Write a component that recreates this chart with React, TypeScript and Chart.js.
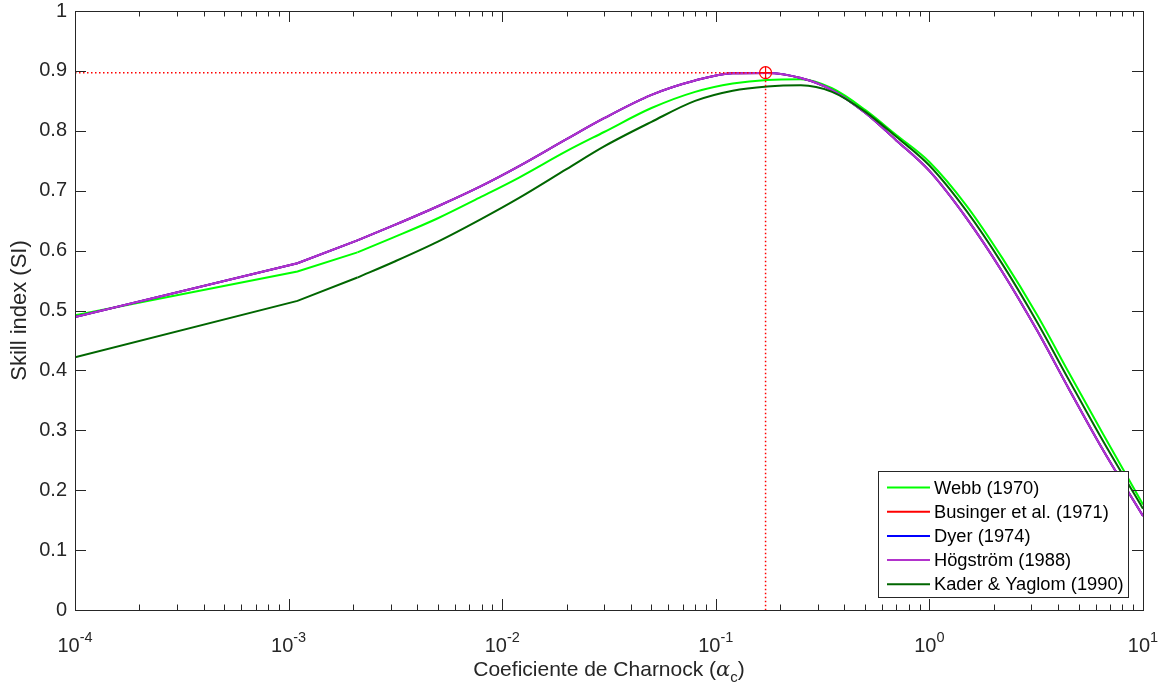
import React, { useEffect, useRef } from 'react';
import { Chart, registerables } from 'chart.js';

Chart.register(...registerables);

// ---- data ----
const alphaGrid = [
  0.0001, 0.0011, 0.0021, 0.0031, 0.005, 0.008, 0.012, 0.02, 0.03, 0.05, 0.08, 0.12,
  0.174, 0.25, 0.35, 0.5, 0.7, 1.0, 1.5, 2.2, 3.2, 4.5, 6.5, 10,
];
const webbSI = [
  0.492, 0.565, 0.597, 0.622, 0.654, 0.69, 0.722, 0.766, 0.798, 0.838, 0.865, 0.879,
  0.885, 0.886, 0.871, 0.835, 0.793, 0.748, 0.674, 0.587, 0.492, 0.396, 0.294, 0.176,
];
const busingerSI = [
  0.489, 0.579, 0.617, 0.642, 0.674, 0.708, 0.741, 0.786, 0.821, 0.86, 0.884, 0.896,
  0.8965, 0.888, 0.868, 0.83, 0.784, 0.733, 0.653, 0.564, 0.466, 0.369, 0.267, 0.157,
];
const dyerSI = [
  0.489, 0.579, 0.617, 0.642, 0.674, 0.708, 0.741, 0.786, 0.821, 0.86, 0.884, 0.896,
  0.8965, 0.888, 0.868, 0.83, 0.784, 0.733, 0.653, 0.564, 0.466, 0.369, 0.267, 0.157,
];
const hogstromSI = [
  0.489, 0.579, 0.617, 0.642, 0.674, 0.708, 0.741, 0.786, 0.821, 0.86, 0.884, 0.896,
  0.8965, 0.888, 0.868, 0.83, 0.784, 0.733, 0.653, 0.564, 0.466, 0.369, 0.267, 0.157,
];
const kaderSI = [
  0.422, 0.516, 0.555, 0.581, 0.615, 0.653, 0.688, 0.736, 0.774, 0.815, 0.85, 0.867,
  0.874, 0.876, 0.865, 0.832, 0.79, 0.742, 0.665, 0.577, 0.48, 0.384, 0.282, 0.169,
];
const seriesLabels = [
  'Webb (1970)',
  'Businger et al. (1971)',
  'Dyer (1974)',
  'Högström (1988)',
  'Kader & Yaglom (1990)',
];
const seriesValues = [webbSI, busingerSI, dyerSI, hogstromSI, kaderSI];
const seriesColors = ['#00FF00', '#FF0000', '#0000FF', '#B233CC', '#006600'];

const peakAlpha = 0.171;
const peakSI = 0.897;

const yTickValues = [0, 0.1, 0.2, 0.3, 0.4, 0.5, 0.6, 0.7, 0.8, 0.9, 1];
const yTickLabels = ['0', '0.1', '0.2', '0.3', '0.4', '0.5', '0.6', '0.7', '0.8', '0.9', '1'];
const xTickExponents = [-4, -3, -2, -1, 0, 1];
const xTitleMain = 'Coeficiente de Charnock (';
const xTitleSymbol = 'α';
const xTitleSub = 'c';
const xTitleEnd = ')';
const yTitle = 'Skill index (SI)';

// index where the coarse (straight) sampling segment ends
const coarseEnd = 2;

const FONT = "'Liberation Sans', Arial, Helvetica, sans-serif";
const AXIS_COLOR = '#262626';

const matlabAxesPlugin = {
  id: 'matlabAxes',
  afterDatasetsDraw(chart: any) {
    const ctx = chart.ctx as CanvasRenderingContext2D;
    const area = chart.chartArea;
    const xs = chart.scales.x;
    const ys = chart.scales.y;
    const L = area.left, R = area.right, T = area.top, B = area.bottom;
    ctx.save();

    // legend
    const lw = 250, lh = 126;
    const lx = R - 15 - lw, ly = B - 13 - lh;
    ctx.fillStyle = '#ffffff';
    ctx.fillRect(lx, ly, lw, lh);
    ctx.strokeStyle = AXIS_COLOR;
    ctx.lineWidth = 1;
    ctx.strokeRect(Math.round(lx) + 0.5, Math.round(ly) + 0.5, lw, lh);
    ctx.font = `18.3px ${FONT}`;
    ctx.textBaseline = 'middle';
    ctx.textAlign = 'left';
    seriesLabels.forEach((lab, i) => {
      const cy = ly + 16.5 + i * 24.2;
      ctx.strokeStyle = seriesColors[i];
      ctx.lineWidth = 2;
      ctx.beginPath();
      ctx.moveTo(lx + 9, cy);
      ctx.lineTo(lx + 52, cy);
      ctx.stroke();
      ctx.fillStyle = '#000000';
      ctx.fillText(lab, lx + 56, cy + 1);
    });

    // ticks
    ctx.strokeStyle = AXIS_COLOR;
    ctx.lineWidth = 1;
    ctx.beginPath();
    const major = 11, minor = 5.5;
    xTickExponents.forEach((e) => {
      const base = Math.pow(10, e);
      const px = Math.round(xs.getPixelForValue(base)) + 0.5;
      ctx.moveTo(px, B); ctx.lineTo(px, B - major);
      ctx.moveTo(px, T); ctx.lineTo(px, T + major);
      if (e < xTickExponents[xTickExponents.length - 1]) {
        for (let k = 2; k <= 9; k++) {
          const mx = Math.round(xs.getPixelForValue(k * base)) + 0.5;
          ctx.moveTo(mx, B); ctx.lineTo(mx, B - minor);
          ctx.moveTo(mx, T); ctx.lineTo(mx, T + minor);
        }
      }
    });
    yTickValues.forEach((v) => {
      const py = Math.round(ys.getPixelForValue(v)) + 0.5;
      ctx.moveTo(L, py); ctx.lineTo(L + major, py);
      ctx.moveTo(R, py); ctx.lineTo(R - major, py);
    });
    ctx.stroke();
    ctx.strokeRect(Math.round(L) + 0.5, Math.round(T) + 0.5, Math.round(R - L), Math.round(B - T));

    // x tick labels 10^e
    ctx.fillStyle = AXIS_COLOR;
    ctx.textBaseline = 'alphabetic';
    ctx.textAlign = 'left';
    xTickExponents.forEach((e) => {
      const px = xs.getPixelForValue(Math.pow(10, e));
      ctx.font = `20px ${FONT}`;
      const wBase = ctx.measureText('10').width;
      const expText = e < 0 ? '-' + Math.abs(e) : String(e);
      ctx.font = `14.5px ${FONT}`;
      const wExp = ctx.measureText(expText).width;
      const x0 = px - (wBase + wExp) / 2;
      const baseY = B + 42;
      ctx.font = `20px ${FONT}`;
      ctx.fillText('10', x0, baseY);
      ctx.font = `14.5px ${FONT}`;
      ctx.fillText(expText, x0 + wBase, baseY - 10.5);
    });

    // x title
    const cx = (L + R) / 2;
    const ty = B + 66;
    ctx.font = `21px ${FONT}`;
    const w1 = ctx.measureText(xTitleMain).width;
    ctx.font = `italic 21px 'DejaVu Serif', serif`;
    const w2 = ctx.measureText(xTitleSymbol).width;
    ctx.font = `15px ${FONT}`;
    const w3 = ctx.measureText(xTitleSub).width;
    ctx.font = `21px ${FONT}`;
    const w4 = ctx.measureText(xTitleEnd).width;
    let tx = cx - (w1 + w2 + w3 + w4) / 2;
    ctx.fillText(xTitleMain, tx, ty);
    tx += w1;
    ctx.font = `italic 21px 'DejaVu Serif', serif`;
    ctx.fillText(xTitleSymbol, tx, ty);
    tx += w2;
    ctx.font = `15px ${FONT}`;
    ctx.fillText(xTitleSub, tx, ty + 6);
    tx += w3;
    ctx.font = `21px ${FONT}`;
    ctx.fillText(xTitleEnd, tx, ty);

    ctx.restore();
  },
};

export default function App() {
  const canvasRef = useRef<HTMLCanvasElement | null>(null);

  useEffect(() => {
    if (!canvasRef.current) return;
    Chart.defaults.font.family = FONT;
    const orders = [5, 4, 3, 2, 1];
    const curveSets: any[] = [];
    seriesLabels.forEach((lab, i) => {
      const pts = alphaGrid.map((a, j) => ({ x: a, y: seriesValues[i][j] }));
      // coarse straight part (first samples)
      curveSets.push({
        label: lab,
        data: pts.slice(0, coarseEnd + 1),
        borderColor: seriesColors[i],
        backgroundColor: seriesColors[i],
        borderWidth: 2,
        pointRadius: 0,
        tension: 0,
        fill: false,
        order: orders[i],
      });
      // smooth part
      curveSets.push({
        label: lab + ' ',
        data: pts.slice(coarseEnd),
        borderColor: seriesColors[i],
        backgroundColor: seriesColors[i],
        borderWidth: 2,
        pointRadius: 0,
        cubicInterpolationMode: 'monotone',
        fill: false,
        order: orders[i],
      });
    });
    const chart = new Chart(canvasRef.current, {
      type: 'line',
      data: {
        datasets: [
          ...curveSets,
          {
            label: 'hline',
            data: [{ x: 0.0001, y: peakSI }, { x: peakAlpha, y: peakSI }],
            borderColor: '#FF0000',
            borderWidth: 1.5,
            borderDash: [1.5, 2.5],
            pointRadius: 0,
            order: 0,
          },
          {
            label: 'vline',
            data: [{ x: peakAlpha, y: peakSI }, { x: peakAlpha, y: 0 }],
            borderColor: '#FF0000',
            borderWidth: 1.5,
            borderDash: [1.5, 2.5],
            pointRadius: 0,
            order: 0,
          },
          {
            label: 'peakCircle',
            data: [{ x: peakAlpha, y: peakSI }],
            showLine: false,
            borderColor: '#FF0000',
            backgroundColor: 'rgba(0,0,0,0)',
            pointStyle: 'circle',
            pointRadius: 6,
            pointBorderWidth: 1.2,
            order: 0,
          },
          {
            label: 'peakCross',
            data: [{ x: peakAlpha, y: peakSI }],
            showLine: false,
            borderColor: '#FF0000',
            backgroundColor: '#FF0000',
            pointStyle: 'cross',
            pointRadius: 6,
            pointBorderWidth: 1.2,
            order: 0,
          },
        ] as any,
      },
      options: {
        animation: false,
        responsive: false,
        layout: { padding: { left: 7, right: 22, top: 11, bottom: 77 } },
        plugins: {
          legend: { display: false },
          tooltip: { enabled: false },
        },
        scales: {
          x: {
            type: 'logarithmic',
            min: 0.0001,
            max: 10,
            display: false,
          },
          y: {
            type: 'linear',
            min: 0,
            max: 1,
            afterBuildTicks: (scale: any) => {
              scale.ticks = yTickValues.map((v) => ({ value: v }));
            },
            afterFit: (scale: any) => {
              scale.width = 68;
              scale.paddingTop = 0;
              scale.paddingBottom = 0;
            },
            grid: { display: false, drawTicks: false },
            border: { display: false },
            ticks: {
              padding: 8,
              color: AXIS_COLOR,
              font: { size: 20, family: FONT },
              callback: (_v: any, i: number) => yTickLabels[i],
            },
            title: {
              display: true,
              text: yTitle,
              color: AXIS_COLOR,
              font: { size: 22, family: FONT },
              padding: { top: 0, bottom: 0 },
            },
          },
        },
      } as any,
      plugins: [matlabAxesPlugin],
    });
    return () => chart.destroy();
  }, []);

  return (
    <div style={{ position: 'absolute', left: 0, top: 0, width: 1165, height: 687, background: '#fff' }}>
      <canvas ref={canvasRef} width={1165} height={687} style={{ width: 1165, height: 687, display: 'block' }} />
    </div>
  );
}
